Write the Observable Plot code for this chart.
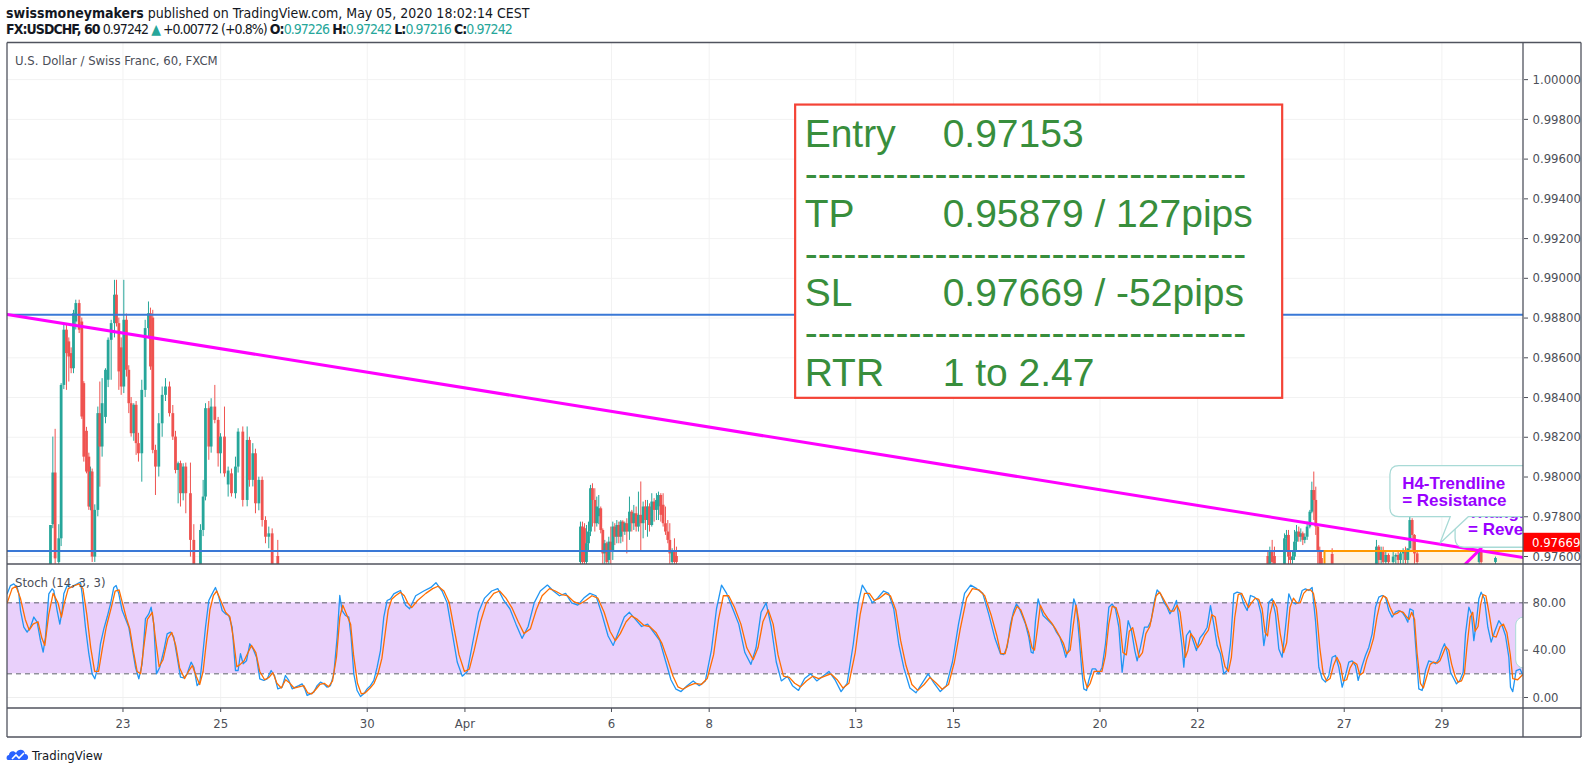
<!DOCTYPE html>
<html><head><meta charset="utf-8">
<script src="https://cdn.jsdelivr.net/npm/d3@7"></script>
<script src="https://cdn.jsdelivr.net/npm/@observablehq/plot@0.6"></script>
<style>
body{margin:0;background:#fff;}
#root{position:relative;width:1588px;height:774px;overflow:hidden;background:#fff;font-family:"Liberation Sans Narrow","DejaVu Sans Condensed","Liberation Sans",Arial,sans-serif;color:#131722;}
.abs{position:absolute;white-space:nowrap;}
.teal{color:#26a69a;}
</style></head><body><div id="root">
<div class="abs" style="left:6px;top:5px;font-size:14px;"><b>swissmoneymakers</b> published on TradingView.com, May 05, 2020 18:02:14 CEST</div>
<div class="abs" style="left:6px;top:21px;font-size:14px;letter-spacing:-0.95px;"><b>FX:USDCHF, 60</b> 0.97242 <span class="teal">▲</span> +0.00772 (+0.8%) <b>O:</b><span class="teal">0.97226</span> <b>H:</b><span class="teal">0.97242</span> <b>L:</b><span class="teal">0.97216</span> <b>C:</b><span class="teal">0.97242</span></div>
</div>
<script>
// ---------- data ----------
const dayTicks = [0, 2, 5, 7, 10, 12, 15, 17, 20, 22, 25, 27];
const dayLabels = ["23", "25", "30", "Apr", "6", "8", "13", "15", "20", "22", "27", "29"];
const priceTicks = [0.976, 0.978, 0.980, 0.982, 0.984, 0.986, 0.988, 0.990, 0.992, 0.994, 0.996, 0.998, 1.000];
const stochTicks = [0, 40, 80];
const stochBand = [20, 80];

// [t (trading days from 23 Mar), open, high, low, close]
const candles = [
[-1.484,0.97500,0.97756,0.97480,0.97756],[-1.436,0.97760,0.98201,0.97740,0.98020],[-1.389,0.98020,0.98240,0.97550,0.97588],
[-1.314,0.97570,0.97760,0.97550,0.97689],[-1.266,0.97689,0.98470,0.97650,0.98461],[-1.211,0.98461,0.98764,0.98440,0.98739],
[-1.157,0.98739,0.98770,0.98436,0.98621],[-1.109,0.98680,0.98700,0.98478,0.98604],[-1.061,0.98621,0.98650,0.98520,0.98545],
[-1.013,0.98545,0.98839,0.98520,0.98822],[-0.966,0.98780,0.98890,0.98740,0.98873],[-0.897,0.98873,0.98890,0.98722,0.98739],
[-0.843,0.98780,0.98800,0.98290,0.98302],[-0.802,0.98470,0.98480,0.98075,0.98100],[-0.747,0.98230,0.98250,0.98016,0.98025],
[-0.699,0.98100,0.98120,0.97832,0.97849],[-0.665,0.97849,0.98050,0.97830,0.98025],[-0.631,0.98025,0.98040,0.97570,0.97597],
[-0.577,0.97597,0.97860,0.97570,0.97832],[-0.515,0.97832,0.98352,0.97800,0.98319],[-0.474,0.98319,0.98478,0.97949,0.98151],
[-0.427,0.98151,0.98495,0.98100,0.98369],[-0.358,0.98300,0.98545,0.98268,0.98537],[-0.304,0.98487,0.98700,0.98450,0.98688],
[-0.242,0.98688,0.98789,0.98487,0.98772],[-0.174,0.98772,0.98990,0.98700,0.98915],[-0.133,0.98915,0.98990,0.98755,0.98772],
[-0.085,0.98772,0.98800,0.98436,0.98529],[-0.037,0.98650,0.98700,0.98411,0.98453],[0.017,0.98453,0.98990,0.98420,0.98789],
[0.071,0.98789,0.98820,0.98503,0.98537],[0.119,0.98537,0.98560,0.98319,0.98369],[0.167,0.98369,0.98400,0.98201,0.98218],
[0.221,0.98218,0.98369,0.98180,0.98361],[0.269,0.98361,0.98380,0.98109,0.98168],[0.317,0.98168,0.98220,0.98075,0.98117],
[0.385,0.98117,0.98487,0.97974,0.98436],[0.454,0.98436,0.98789,0.98400,0.98747],[0.522,0.98747,0.98881,0.98700,0.98822],
[0.563,0.98822,0.98850,0.98537,0.98554],[0.610,0.98800,0.98839,0.98117,0.98134],[0.665,0.98134,0.98160,0.97907,0.98050],
[0.733,0.98050,0.98319,0.98000,0.98268],[0.802,0.98268,0.98453,0.98200,0.98411],[0.870,0.98411,0.98495,0.98380,0.98453],
[0.952,0.98453,0.98478,0.98302,0.98319],[1.020,0.98319,0.98360,0.98184,0.98201],[1.075,0.98201,0.98230,0.98016,0.98033],
[1.129,0.98033,0.98075,0.97865,0.98067],[1.177,0.98067,0.98080,0.97849,0.97916],[1.232,0.97916,0.98067,0.97880,0.98050],
[1.286,0.98050,0.98070,0.97815,0.97916],[1.381,0.97916,0.98070,0.97597,0.97681],[1.450,0.97681,0.97760,0.97500,0.97520],
[1.586,0.97520,0.97760,0.97500,0.97731],[1.641,0.97731,0.97983,0.97700,0.97899],[1.689,0.97899,0.98369,0.97880,0.98344],
[1.757,0.98344,0.98380,0.98084,0.98151],[1.805,0.98151,0.98394,0.98120,0.98352],[1.880,0.98352,0.98461,0.98268,0.98285],
[1.948,0.98285,0.98300,0.98050,0.98117],[1.996,0.98117,0.98218,0.98016,0.98201],[2.078,0.98201,0.98352,0.97999,0.98016],
[2.153,0.97960,0.98050,0.97899,0.98030],[2.221,0.98016,0.98040,0.97899,0.97916],[2.303,0.97916,0.98100,0.97890,0.98050],
[2.357,0.98050,0.98243,0.98020,0.98226],[2.453,0.98226,0.98252,0.97849,0.97882],[2.542,0.97882,0.98252,0.97850,0.98184],
[2.589,0.98184,0.98200,0.97949,0.97983],[2.658,0.97983,0.98168,0.97950,0.98117],[2.712,0.98117,0.98140,0.97815,0.97865],
[2.781,0.97865,0.97999,0.97830,0.97983],[2.849,0.97983,0.98000,0.97748,0.97781],[2.917,0.97781,0.97800,0.97664,0.97697],
[2.985,0.97697,0.97748,0.97639,0.97714],[3.054,0.97714,0.97739,0.97500,0.97540],[3.169,0.97600,0.97681,0.97500,0.97540],
// early April
[9.365,0.97570,0.97773,0.97550,0.97748],[9.406,0.97748,0.97773,0.97550,0.97570],[9.447,0.97740,0.97765,0.97550,0.97570],
[9.488,0.97570,0.97756,0.97550,0.97664],[9.529,0.97664,0.97773,0.97630,0.97723],[9.570,0.97723,0.97958,0.97700,0.97941],
[9.611,0.97941,0.97966,0.97748,0.97882],[9.659,0.97882,0.97941,0.97723,0.97765],[9.699,0.97765,0.97899,0.97748,0.97849],
[9.740,0.97800,0.97907,0.97760,0.97840],[9.781,0.97840,0.97849,0.97714,0.97731],[9.822,0.97731,0.97739,0.97550,0.97613],
[9.863,0.97613,0.97681,0.97550,0.97664],[9.904,0.97664,0.97672,0.97550,0.97570],[9.945,0.97580,0.97697,0.97550,0.97672],
[9.986,0.97672,0.97748,0.97550,0.97630],[10.027,0.97630,0.97773,0.97580,0.97748],[10.068,0.97748,0.97765,0.97655,0.97697],
[10.109,0.97697,0.97781,0.97664,0.97756],[10.150,0.97756,0.97773,0.97664,0.97697],[10.191,0.97697,0.97781,0.97664,0.97773],
[10.232,0.97773,0.97780,0.97672,0.97723],[10.273,0.97723,0.97773,0.97706,0.97765],[10.314,0.97765,0.97790,0.97613,0.97723],
[10.368,0.97723,0.97899,0.97681,0.97823],[10.416,0.97823,0.97832,0.97723,0.97765],[10.457,0.97765,0.97857,0.97731,0.97815],
[10.505,0.97815,0.97849,0.97723,0.97748],[10.552,0.97748,0.97924,0.97723,0.97807],[10.600,0.97807,0.97975,0.97630,0.97765],
[10.648,0.97765,0.97874,0.97689,0.97849],[10.696,0.97849,0.97882,0.97731,0.97781],[10.737,0.97781,0.97882,0.97697,0.97849],
[10.778,0.97849,0.97865,0.97723,0.97756],[10.825,0.97756,0.97916,0.97748,0.97874],[10.873,0.97874,0.97891,0.97773,0.97832],
[10.921,0.97832,0.97916,0.97781,0.97882],[10.962,0.97850,0.97924,0.97781,0.97907],[11.010,0.97907,0.97916,0.97773,0.97807],
[11.057,0.97858,0.97916,0.97748,0.97765],[11.105,0.97765,0.97849,0.97706,0.97723],[11.153,0.97723,0.97781,0.97664,0.97681],
[11.194,0.97681,0.97765,0.97550,0.97613],[11.242,0.97570,0.97639,0.97550,0.97630],[11.289,0.97630,0.97689,0.97550,0.97570],
[11.330,0.97600,0.97647,0.97550,0.97570],
// late April
[23.436,0.97600,0.97622,0.97550,0.97560],[23.477,0.97560,0.97647,0.97550,0.97630],[23.525,0.97630,0.97681,0.97550,0.97570],
[23.572,0.97600,0.97647,0.97550,0.97560],[23.777,0.97560,0.97714,0.97550,0.97689],[23.818,0.97689,0.97731,0.97630,0.97706],
[23.859,0.97706,0.97731,0.97550,0.97597],[23.900,0.97597,0.97630,0.97550,0.97580],[23.941,0.97580,0.97622,0.97550,0.97597],
[23.982,0.97597,0.97731,0.97580,0.97672],[24.023,0.97672,0.97756,0.97630,0.97723],[24.070,0.97723,0.97748,0.97672,0.97697],
[24.111,0.97697,0.97739,0.97672,0.97714],[24.152,0.97714,0.97723,0.97655,0.97681],[24.193,0.97681,0.97714,0.97664,0.97697],
[24.241,0.97697,0.97773,0.97681,0.97748],[24.296,0.97748,0.97832,0.97739,0.97823],[24.337,0.97823,0.97974,0.97815,0.97932],
[24.377,0.97932,0.98025,0.97781,0.97882],[24.418,0.97882,0.97949,0.97706,0.97748],[24.459,0.97748,0.97760,0.97550,0.97630],
[24.500,0.97630,0.97647,0.97550,0.97560],[24.534,0.97590,0.97630,0.97550,0.97560],[24.753,0.97610,0.97639,0.97550,0.97560],
[25.660,0.97560,0.97681,0.97550,0.97647],[25.708,0.97647,0.97655,0.97550,0.97580],[25.756,0.97580,0.97647,0.97550,0.97630],
[25.797,0.97630,0.97647,0.97550,0.97570],[25.851,0.97570,0.97622,0.97550,0.97605],[25.906,0.97605,0.97613,0.97550,0.97570],
[26.002,0.97570,0.97622,0.97550,0.97597],[26.056,0.97597,0.97613,0.97550,0.97605],[26.104,0.97605,0.97630,0.97550,0.97580],
[26.152,0.97580,0.97622,0.97550,0.97613],[26.206,0.97613,0.97639,0.97550,0.97630],[26.254,0.97630,0.97647,0.97550,0.97580],
[26.302,0.97580,0.97630,0.97550,0.97639],[26.343,0.97639,0.97800,0.97630,0.97781],[26.391,0.97781,0.97790,0.97630,0.97706],
[26.438,0.97706,0.97710,0.97550,0.97613],[26.493,0.97613,0.97622,0.97550,0.97570],[27.762,0.97570,0.97639,0.97550,0.97630],
[27.803,0.97630,0.97647,0.97550,0.97570],[28.096,0.97570,0.97597,0.97550,0.97590]
];

// Stochastic %K (blue) and %D (orange): [t, value]
const stochK = [
[-2.371,87.6],[-2.303,94.6],[-2.235,96],[-2.166,93],[-2.132,87.6],[-2.098,73.5],[-2.030,59.4],[-1.962,55.2],[-1.894,59.4],[-1.825,68],
[-1.757,63.7],[-1.689,48],[-1.634,38.3],[-1.587,51],[-1.518,87.6],[-1.450,91.8],[-1.416,90.4],[-1.348,73.5],[-1.293,62],[-1.245,73.5],
[-1.211,87.6],[-1.143,94.6],[-1.075,93],[-1.006,94.6],[-0.938,96],[-0.870,97.5],[-0.836,87.6],[-0.768,59.4],[-0.699,37],[-0.631,20],
[-0.577,15.8],[-0.515,25.6],[-0.461,45.4],[-0.392,58],[-0.324,68],[-0.256,79],[-0.188,93],[-0.140,94.6],[-0.085,87.6],[-0.017,73.5],
[0.051,66.5],[0.119,59.4],[0.187,42.5],[0.256,25.6],[0.324,15.8],[0.392,28.5],[0.460,66.5],[0.529,70.7],[0.576,76.3],[0.631,62],
[0.685,20],[0.754,25.6],[0.836,39.7],[0.904,53.8],[0.972,55.2],[1.040,51],[1.109,34],[1.177,17.2],[1.245,16.6],[1.313,20],
[1.395,29.9],[1.450,25.6],[1.518,10],[1.573,13],[1.620,31],[1.689,59.4],[1.757,82],[1.825,87.6],[1.893,93],[1.962,84.8],
[2.030,73.5],[2.098,70.7],[2.166,69.3],[2.235,59.4],[2.303,22.8],[2.357,22.8],[2.405,37],[2.460,28.5],[2.528,31],[2.596,45.4],
[2.664,41],[2.733,34],[2.801,15.8],[2.883,14.4],[2.951,15.8],[3.033,22.8],[3.101,18.6],[3.169,7.3],[3.258,8.7],[3.326,18.6],
[3.394,14.4],[3.463,7.3],[3.531,8.7],[3.599,10],[3.667,11.5],[3.722,7.3],[3.770,1.7],[3.838,3.1],[3.906,4.5],[3.975,10],
[4.043,13],[4.111,11.5],[4.179,8.7],[4.247,10],[4.316,20],[4.384,51],[4.438,86.2],[4.486,73.5],[4.554,69.3],[4.623,67.9],
[4.670,51],[4.725,20],[4.793,5.9],[4.862,0.8],[4.930,3.1],[4.998,7.3],[5.066,10],[5.135,14.4],[5.203,25.6],[5.271,39.7],
[5.339,67.9],[5.408,82],[5.476,83.4],[5.544,87.6],[5.612,89],[5.681,90.4],
[5.723,85],[5.785,78],[5.868,75],[5.992,86],[6.158,90],[6.303,93],[6.407,97],[6.531,90],[6.635,80],[6.739,55],
[6.842,30],[6.946,18],[7.050,22],[7.153,45],[7.278,72],[7.402,84],[7.547,90],[7.672,92],[7.796,82],[7.920,75],
[8.045,62],[8.169,50],[8.294,60],[8.418,80],[8.543,90],[8.688,95],[8.812,90],[8.936,86],[9.061,88],[9.185,80],
[9.310,78],[9.434,84],[9.558,88],[9.683,86],[9.807,70],[9.931,52],[10.035,44],[10.139,55],[10.263,68],[10.367,72],
[10.491,66],[10.616,60],[10.740,62],[10.865,55],[10.989,48],[11.113,30],[11.217,15],[11.320,7],[11.424,5],[11.548,10],
[11.673,14],[11.797,10],[11.922,14],[12.046,40],[12.150,75],[12.253,95],[12.357,88],[12.482,75],[12.606,62],[12.730,38],
[12.855,28],[12.959,42],[13.062,72],[13.166,80],[13.270,60],[13.373,30],[13.477,14],[13.602,18],[13.705,10],[13.829,6],
[13.954,16],[14.078,20],[14.202,14],[14.327,18],[14.451,22],[14.576,15],[14.700,5],[14.824,12],[14.949,45],[15.052,80],
[15.135,95],[15.239,88],[15.342,80],[15.446,84],[15.570,90],[15.674,88],[15.778,75],[15.881,45],[15.985,25],[16.109,8],
[16.234,4],[16.358,12],[16.482,20],[16.607,12],[16.731,5],[16.855,10],[16.980,30],[17.104,62],[17.228,88],[17.353,95],
[17.477,92],[17.601,88],[17.726,70],[17.850,50],
[17.963,36.9],[18.031,36.3],[18.100,42.5],[18.168,62],[18.236,73.5],[18.291,79],[18.338,76.3],[18.407,69.3],[18.475,62],[18.543,51],
[18.591,38.3],[18.632,37.5],[18.680,64.9],[18.734,83.4],[18.782,76.3],[18.836,69.3],[18.905,66.5],[18.973,63.7],[19.041,60.8],[19.109,55.2],
[19.178,51],[19.246,42.5],[19.300,34],[19.362,41],[19.410,64.9],[19.464,83.4],[19.519,76.3],[19.573,51],[19.628,22.8],[19.669,7.3],
[19.724,5.9],[19.771,14.4],[19.840,24.2],[19.908,24.2],[19.976,20],[20.044,25.6],[20.113,45.4],[20.181,76.3],[20.249,79],[20.317,74.9],
[20.386,59.4],[20.454,21.4],[20.522,45.4],[20.577,64.9],[20.645,56.6],[20.713,39.7],[20.761,31],[20.829,42.5],[20.911,59.4],[20.979,59.4],
[21.047,64.9],[21.116,82],[21.170,91],[21.239,87.6],[21.307,80.6],[21.375,76.3],[21.430,70.7],[21.498,74.9],[21.566,82],[21.614,66.5],
[21.682,42.5],[21.716,25.6],[21.771,52.4],[21.839,56.6],[21.907,48],[21.975,39.7],[22.044,50.1],[22.126,54.5],[22.194,59.4],[22.262,77.7],
[22.330,62],[22.399,43.9],[22.467,36.9],[22.535,20],[22.603,22.8],[22.672,45.4],[22.740,87.6],[22.808,89],[22.876,88.2],[22.944,79],
[23.013,73.5],[23.081,86.2],[23.163,84.8],[23.231,82],[23.299,70.7],[23.354,43.9],[23.402,56.6],[23.456,80.6],[23.525,83.4],[23.593,70.7],
[23.661,41],[23.729,34],[23.798,59.4],[23.866,87.6],[23.934,80.6],[24.002,79],[24.071,80.6],[24.139,90.4],[24.207,91.8],[24.275,90.4],
[24.343,93],[24.412,64.9],[24.480,25.6],[24.548,15.8],[24.616,13],[24.685,18.6],[24.753,34],[24.821,35.5],[24.889,25.6],[24.958,8.7],
[25.026,18.6],[25.094,29.9],[25.162,31],[25.231,26.8],[25.285,14.4],[25.367,26.8],[25.435,35.5],[25.504,42.5],[25.572,53.8],[25.640,76.3],
[25.708,84.8],[25.777,86.2],[25.845,84.8],[25.913,73.5],[25.981,67.9],[26.049,72.1],[26.118,73.5],[26.186,72.1],[26.254,67.9],[26.302,63.7],
[26.343,74.9],[26.411,73.5],[26.459,45.4],[26.527,7.3],[26.595,5.9],[26.664,22.8],[26.732,31],[26.800,29.9],[26.868,28.5],[26.937,32.4],
[27.005,41],[27.053,45.4],[27.107,38.3],[27.175,21.4],[27.244,15.8],[27.298,11.5],[27.367,14.4],[27.435,21.4],[27.483,53.8],[27.551,76.3],
[27.605,70.7],[27.653,48],[27.708,64.9],[27.756,83.4],[27.803,89],[27.871,83.4],[27.940,59.4],[28.008,46.8],[28.076,55.2],[28.165,64.9],
[28.233,60.8],[28.301,52.4],[28.370,34],[28.404,8.7],[28.45,5],[28.52,22.8],[28.60,24],[28.67,18]
];
const stochD = [
[-2.37,80],[-2.27,92],[-2.19,94],[-2.10,84],[-2.00,66],[-1.92,57],[-1.84,62],[-1.74,64],[-1.66,50],[-1.60,44],[-1.52,70],[-1.43,88],
[-1.33,80],[-1.26,68],[-1.20,80],[-1.12,92],[-1.02,94],[-0.90,96],[-0.82,92],[-0.74,70],[-0.66,42],[-0.58,22],[-0.50,22],[-0.42,42],
[-0.34,60],[-0.24,76],[-0.16,90],[-0.08,91],[0.00,78],[0.07,67],[0.14,58],[0.21,40],[0.29,22],[0.36,20],[0.43,44],[0.50,66],[0.60,72],
[0.67,48],[0.74,26],[0.82,32],[0.92,50],[1.00,55],[1.08,44],[1.16,25],[1.26,16],[1.34,22],[1.42,27],[1.50,18],[1.57,11],[1.64,22],
[1.71,48],[1.78,74],[1.85,86],[1.92,90],[2.00,82],[2.10,72],[2.19,68],[2.26,50],[2.33,26],[2.40,28],[2.48,31],[2.56,38],[2.63,44],
[2.72,38],[2.80,22],[2.90,15],[2.99,17],[3.07,21],[3.15,12],[3.24,8],[3.33,15],[3.42,12],[3.50,8],[3.60,9],[3.70,10],[3.78,4],[3.86,3],
[3.95,7],[4.03,11],[4.12,12],[4.21,9],[4.29,14],[4.37,34],[4.44,68],[4.50,78],[4.58,70],[4.66,62],[4.72,36],[4.80,12],[4.88,3],[4.96,4],
[5.06,8],[5.14,12],[5.22,20],[5.30,33],[5.37,55],[5.43,74],[5.50,83],[5.58,86],[5.68,89],
[5.76,86],[5.83,80],[5.91,76],[6.03,82],[6.20,88],[6.34,92],[6.45,94],[6.57,90],[6.68,80],[6.78,58],[6.88,36],[6.99,22],[7.09,24],
[7.19,40],[7.32,64],[7.44,80],[7.59,88],[7.71,90],[7.84,84],[7.96,76],[8.09,64],[8.21,54],[8.34,58],[8.46,74],[8.58,86],[8.73,92],
[8.85,90],[8.98,87],[9.10,86],[9.23,81],[9.35,79],[9.47,82],[9.60,86],[9.72,84],[9.85,72],[9.97,56],[10.08,48],[10.18,54],[10.30,64],
[10.41,69],[10.53,66],[10.66,61],[10.78,60],[10.91,55],[11.03,46],[11.15,32],[11.26,18],[11.36,9],[11.46,7],[11.59,10],[11.71,12],
[11.84,11],[11.96,16],[12.09,36],[12.19,66],[12.29,86],[12.40,86],[12.52,76],[12.65,62],[12.77,42],[12.90,32],[13.00,42],[13.10,64],
[13.21,74],[13.31,62],[13.41,36],[13.52,18],[13.64,17],[13.75,12],[13.87,9],[13.99,14],[14.12,18],[14.24,16],[14.37,18],[14.49,20],
[14.62,15],[14.74,8],[14.86,12],[14.99,38],[15.09,70],[15.18,88],[15.28,88],[15.38,82],[15.49,84],[15.61,88],[15.71,86],[15.82,74],
[15.92,48],[16.03,27],[16.15,11],[16.27,6],[16.40,11],[16.52,17],[16.65,12],[16.77,7],[16.90,11],[17.02,30],[17.14,58],[17.27,84],
[17.39,92],[17.52,91],[17.64,86],[17.77,70],[17.89,52],
[17.97,37],[18.06,37],[18.14,52],[18.21,68],[18.30,77],[18.38,74],[18.46,65],[18.54,55],[18.61,42],[18.66,40],[18.72,58],[18.78,78],
[18.85,72],[18.93,67],[19.01,63],[19.09,58],[19.17,52],[19.25,46],[19.32,37],[19.39,40],[19.45,60],[19.51,78],[19.57,64],[19.63,36],
[19.68,16],[19.74,8],[19.80,12],[19.88,22],[19.96,22],[20.04,22],[20.11,35],[20.18,62],[20.25,77],[20.33,76],[20.40,66],[20.47,38],
[20.54,36],[20.60,56],[20.67,59],[20.74,46],[20.80,34],[20.87,38],[20.94,54],[21.02,60],[21.08,72],[21.15,86],[21.22,89],[21.29,84],
[21.37,78],[21.44,73],[21.51,73],[21.58,78],[21.64,72],[21.70,52],[21.75,34],[21.80,40],[21.86,54],[21.93,50],[22.00,42],[22.07,46],
[22.15,53],[22.22,57],[22.29,70],[22.36,68],[22.42,52],[22.49,39],[22.56,26],[22.63,22],[22.69,34],[22.76,68],[22.83,87],[22.90,88],
[22.97,82],[23.04,76],[23.10,80],[23.18,84],[23.25,83],[23.32,75],[23.38,55],[23.43,52],[23.48,70],[23.55,82],[23.62,76],[23.69,54],
[23.76,38],[23.82,46],[23.89,76],[23.96,84],[24.03,80],[24.10,80],[24.17,88],[24.24,91],[24.31,91],[24.37,88],[24.43,74],[24.50,42],
[24.57,20],[24.64,14],[24.71,16],[24.78,27],[24.85,34],[24.92,28],[24.98,14],[25.05,15],[25.12,25],[25.19,30],[25.26,28],[25.32,19],
[25.39,21],[25.46,32],[25.53,40],[25.60,50],[25.67,68],[25.74,81],[25.80,86],[25.87,84],[25.94,76],[26.01,70],[26.08,71],[26.14,73],
[26.21,72],[26.28,68],[26.33,66],[26.38,72],[26.44,66],[26.49,38],[26.56,12],[26.62,8],[26.69,18],[26.76,28],[26.83,30],[26.90,29],
[26.96,31],[27.03,38],[27.08,43],[27.14,40],[27.20,28],[27.27,18],[27.33,13],[27.40,14],[27.46,20],[27.51,42],[27.58,68],[27.63,72],
[27.68,56],[27.74,60],[27.79,78],[27.84,87],[27.90,86],[27.97,70],[28.04,52],[28.11,51],[28.19,60],[28.26,62],[28.33,55],[28.40,36],
[28.45,16],[28.55,15],[28.67,20]
];

// drawing objects (time in trading days, price)
const hLines = [{p: 0.98817, t1: -3, t2: 30}, {p: 0.97628, t1: -3, t2: 24.596}];
const orangeZone = [{t1: 24.596, t2: 30, p1: 0.9740, p2: 0.97628}];
const trendline = [[-2.37, 0.98818], [28.67, 0.97594]];
const trendline2 = [[27.10, 0.97470], [27.80, 0.97640]];
const slPrice = 0.97669;
const noteBox = [{t1: 13.77, t2: 23.74, p1: 0.98396, p2: 0.99872}];
const noteLabels = ["Entry", "----------------------------------", "TP", "----------------------------------", "SL", "----------------------------------", "RTR"];
const noteValues = ["0.97153", "", "0.95879 / 127pips", "", "0.97669 / -52pips", "", "1 to 2.47"];
const callouts = [
  {t1: 27.28, t2: 29.5, p1: 0.97644, p2: 0.97900, tt: 27.544, tp: 0.97792, lines: ["Triangle", "= Reversal"]},
  {t1: 25.946, t2: 29.5, p1: 0.97798, p2: 0.98055, tt: 26.196, tp: 0.97935, lines: ["H4-Trendline", "= Resistance"], tail: [27.18, 27.55, 26.97, 0.97664]}
];
const stochNote = [{t1: 28.52, t2: 29.5, s1: 24.5, s2: 67.6}];

// ---------- view ----------
const T0 = -2.364, T1 = 28.67;
const AXF = "'Liberation Sans Narrow','DejaVu Sans Condensed','Liberation Sans',Arial,sans-serif";
const GREEN = "#26a69a", RED = "#ef5350";
const rows = candles.map(([t, o, h, l, c]) => ({t, o, h, l, c}));
const col = d => d.c >= d.o ? GREEN : RED;
const root = document.getElementById("root");

const price = Plot.plot({
  width: 1574, height: 522,
  marginLeft: 0, marginRight: 58, marginTop: 0, marginBottom: 0,
  style: {fontFamily: AXF, fontSize: "13px", color: "#4c4f58", background: "transparent", overflow: "visible"},
  x: {domain: [T0, T1], axis: null},
  y: {domain: [0.975597, 1.001869], axis: "right", ticks: priceTicks, tickFormat: d => d.toFixed(5), tickSize: 4, tickPadding: 5},
  marks: [
    Plot.ruleY(priceTicks, {stroke: "#f2f2f2"}),
    Plot.ruleX(dayTicks, {stroke: "#f2f2f2"}),
    Plot.rect(orangeZone, {x1: "t1", x2: "t2", y1: "p1", y2: "p2", fill: "#fff4e3", clip: true}),
    Plot.ruleX(rows, {x: "t", y1: "l", y2: "h", stroke: col, strokeWidth: 1, clip: true}),
    Plot.ruleX(rows, {x: "t", y1: "o", y2: "c", stroke: col, strokeWidth: 2.8, clip: true}),
    Plot.ruleY(hLines, {y: "p", x1: "t1", x2: "t2", stroke: "#3a78d6", strokeWidth: 2, clip: true}),
    Plot.ruleY(orangeZone, {y: "p2", x1: "t1", x2: "t2", stroke: "#ff9800", strokeWidth: 2, clip: true}),
    Plot.ruleX(orangeZone, {x: "t1", y1: "p1", y2: "p2", stroke: "#ff9800", strokeWidth: 2, clip: true}),
    Plot.line(trendline, {x: d => d[0], y: d => d[1], stroke: "#ff00ff", strokeWidth: 3, clip: true}),
    Plot.line(trendline2, {x: d => d[0], y: d => d[1], stroke: "#ff00ff", strokeWidth: 3, clip: true}),
    Plot.rect(noteBox, {x1: "t1", x2: "t2", y1: "p1", y2: "p2", fill: "white", stroke: "#f44336", strokeWidth: 2.2}),
    Plot.text([noteLabels.join("\n")], {x: () => noteBox[0].t1, y: () => noteBox[0].p2, dx: 9, dy: 14, textAnchor: "start", lineAnchor: "top", lineHeight: 1.02, fontSize: 39, fill: "#388e3c", fontFamily: "'Liberation Sans',Arial,sans-serif"}),
    Plot.text([noteValues.join("\n")], {x: () => noteBox[0].t1, y: () => noteBox[0].p2, dx: 147, dy: 14, textAnchor: "start", lineAnchor: "top", lineHeight: 1.02, fontSize: 39, fill: "#388e3c", fontFamily: "'Liberation Sans',Arial,sans-serif"})
  ]
});
price.style.position = "absolute"; price.style.left = "7px"; price.style.top = "42px";
root.appendChild(price);

// callouts + SL label drawn with the chart's own scales
{
  const xs = price.scale("x"), ys = price.scale("y");
  const X = t => xs.apply(t), Y = p => ys.apply(p);
  const svg = d3.select(price);
  svg.append("defs").append("clipPath").attr("id", "pframe").append("rect").attr("x", 0).attr("y", 0).attr("width", 1516).attr("height", 522);
  const g = svg.append("g").attr("clip-path", "url(#pframe)").attr("text-anchor", "start");
  for (const c of callouts) {
    const x0 = X(c.t1), x1 = X(c.t2), y0 = Y(c.p2), y1 = Y(c.p1), r = 9;
    let p = `M${x0 + r},${y0}H${x1 - r}Q${x1},${y0} ${x1},${y0 + r}V${y1 - r}Q${x1},${y1} ${x1 - r},${y1}`;
    if (c.tail) p += `H${X(c.tail[1])}L${X(c.tail[2])},${Y(c.tail[3])}L${X(c.tail[0])},${y1}`;
    p += `H${x0 + r}Q${x0},${y1} ${x0},${y1 - r}V${y0 + r}Q${x0},${y0} ${x0 + r},${y0}Z`;
    g.append("path").attr("d", p).attr("fill", "#fff").attr("stroke", "#a8dad6").attr("stroke-width", 1.3);
    c.lines.forEach((s, i) => g.append("text").attr("x", X(c.tt)).attr("y", Y(c.tp) + i * 17).text(s)
      .attr("text-anchor", "start").attr("fill", "#9900ff").attr("font-weight", "bold").attr("font-size", 17).attr("font-family", "'Liberation Sans',Arial,sans-serif"));
  }
  const ly = Y(slPrice);
  svg.append("rect").attr("x", 1516).attr("y", ly - 9.5).attr("width", 57).attr("height", 19).attr("fill", "#ff0000");
  svg.append("text").attr("x", 1525).attr("y", ly + 4.5).attr("text-anchor", "start").attr("fill", "#fff").attr("font-size", 13).attr("font-family", AXF).text(slPrice.toFixed(5));
}

const stoch = Plot.plot({
  width: 1574, height: 173,
  marginLeft: 0, marginRight: 58, marginTop: 0, marginBottom: 29,
  style: {fontFamily: AXF, fontSize: "13px", color: "#4c4f58", background: "transparent", overflow: "visible"},
  x: {domain: [T0, T1], ticks: dayTicks, tickFormat: d => dayLabels[dayTicks.indexOf(d)], tickSize: 4, tickPadding: 6},
  y: {domain: [-9.3, 112.4], axis: "right", ticks: stochTicks, tickFormat: d => d.toFixed(2), tickSize: 4, tickPadding: 5},
  marks: [
    Plot.ruleX(dayTicks, {stroke: "#f2f2f2"}),
    Plot.ruleY([0], {stroke: "#eeeeee"}),
    Plot.rect([stochBand], {x1: () => -3, x2: () => 30, y1: d => d[0], y2: d => d[1], fill: "#e9d0fb", clip: true}),
    Plot.ruleY(stochBand, {stroke: "#5d606b", strokeDasharray: "5,4"}),
    Plot.rect(stochNote, {x1: "t1", x2: "t2", y1: "s1", y2: "s2", fill: "white", stroke: "#a8dad6", rx: 8, clip: true}),
    Plot.line(stochK, {x: d => d[0], y: d => d[1], stroke: "#2196f3", strokeWidth: 1.3, clip: true}),
    Plot.line(stochD, {x: d => d[0], y: d => d[1], stroke: "#ff6d00", strokeWidth: 1.3, clip: true})
  ]
});
stoch.style.position = "absolute"; stoch.style.left = "7px"; stoch.style.top = "564px";
root.appendChild(stoch);

// frame, labels, logo
const ov = d3.select(root).append("svg").attr("width", 1588).attr("height", 774)
  .style("position", "absolute").style("left", 0).style("top", 0).style("pointer-events", "none");
const LC = "#50535e";
[[7, 42.5, 1581, 42.5], [7, 564, 1581, 564], [7, 708, 1581, 708], [7, 737, 1581, 737],
 [7, 42.5, 7, 737], [1523, 42.5, 1523, 737], [1581, 42.5, 1581, 737]]
  .forEach(([a, b, c, d]) => ov.append("line").attr("x1", a).attr("y1", b).attr("x2", c).attr("y2", d).attr("stroke", LC).attr("stroke-width", 1.3));
ov.append("text").attr("x", 15).attr("y", 65).attr("font-size", 13).attr("fill", "#4a4d57").attr("font-family", AXF).text("U.S. Dollar / Swiss Franc, 60, FXCM");
ov.append("text").attr("x", 15).attr("y", 587).attr("font-size", 13).attr("fill", "#4a4d57").attr("font-family", AXF).text("Stoch (14, 3, 3)");
const logo = ov.append("g").attr("transform", "translate(6,746)");
logo.append("path").attr("d", "M2,14 C0,14 0,9 3,9 C3,5 8,4 10,7 C12,2 19,3 19,8 C23,8 23,14 20,14 Z").attr("fill", "#2962ff");
logo.append("path").attr("d", "M6,13 L10,9 L13,12 L18,7").attr("stroke", "#fff").attr("stroke-width", 1.6).attr("fill", "none");
ov.append("text").attr("x", 32).attr("y", 760).attr("font-size", 13).attr("fill", "#131722").attr("font-family", AXF).text("TradingView");
</script></body></html>
